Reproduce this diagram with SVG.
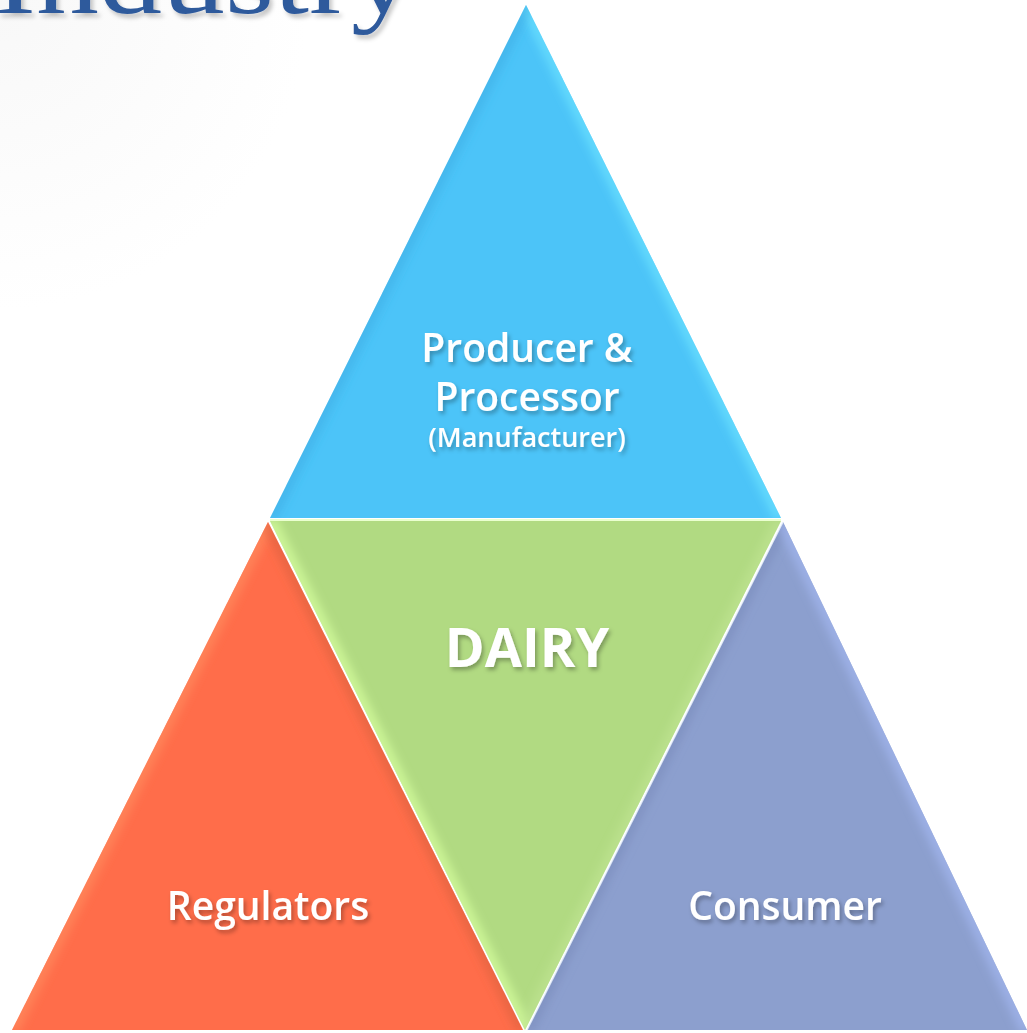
<svg xmlns="http://www.w3.org/2000/svg" width="1027" height="1033" viewBox="0 0 1027 1033">
<defs>
<style>
.lbl{font-family:"Open Sans",Lato,"Liberation Sans",sans-serif;font-weight:600;fill:#ffffff;text-anchor:middle;filter:url(#ts)}
.edge{fill:none;stroke-width:14;filter:url(#bl)}
</style>
<filter id="ts" x="-10%" y="-30%" width="130%" height="170%">
<feDropShadow dx="2" dy="3" stdDeviation="2" flood-color="#000" flood-opacity="0.3"/>
</filter>
<filter id="bl"><feGaussianBlur stdDeviation="4"/></filter>
<filter id="tts" x="-5%" y="-50%" width="110%" height="200%">
<feDropShadow dx="3" dy="4" stdDeviation="2" flood-color="#000" flood-opacity="0.22"/>
</filter>
<radialGradient id="bg" cx="0" cy="0" r="1">
<stop offset="0" stop-color="#f8f8f8"/>
<stop offset="0.3" stop-color="#ffffff"/>
</radialGradient>
<clipPath id="cTop"><polygon points="526,5 270,518 781,518"/></clipPath>
<clipPath id="cMid"><polygon points="270,521 781,521 525,1030"/></clipPath>
<clipPath id="cLeft"><polygon points="268,522 12,1030 523,1030"/></clipPath>
<clipPath id="cRight"><polygon points="783,522 527,1030 1027,1030"/></clipPath>
</defs>
<rect width="1027" height="1033" fill="url(#bg)"/>
<text x="-6" y="13" font-family="'Liberation Serif',serif" font-size="104" fill="#2f5a9c" textLength="420" lengthAdjust="spacingAndGlyphs" filter="url(#tts)">Industry</text>

<g id="producer">
<polygon points="526,5 270,518 781,518" fill="#4cc4f8"/>
<g clip-path="url(#cTop)">
<polyline class="edge" points="270,518 781,518" stroke="#3f93c4" stroke-opacity="0.75"/>
<polyline class="edge" points="526,5 781,518" stroke="#6fe6ff" stroke-opacity="0.6"/>
<polyline class="edge" points="526,5 270,518" stroke="#3aa6dc" stroke-opacity="0.4"/>
</g>
<text class="lbl" x="527" y="362" font-size="39">Producer &amp;</text>
<text class="lbl" x="527" y="411" font-size="39">Processor</text>
<text class="lbl" x="527" y="447" font-size="27">(Manufacturer)</text>
</g>

<g id="dairy">
<polygon points="270,521 781,521 525,1030" fill="#b1da82"/>
<g clip-path="url(#cMid)">
<polyline class="edge" points="270,521 781,521" stroke="#8fae6a" stroke-opacity="0.8"/>
<polyline class="edge" points="270,521 525,1030" stroke="#d6ff9e" stroke-opacity="0.7"/>
<polyline class="edge" points="781,521 525,1030" stroke="#c4e896" stroke-opacity="0.5"/>
</g>
<line x1="270" y1="520" x2="781" y2="520" stroke="#eaffd0" stroke-width="2"/>
<text class="lbl" x="527" y="667" font-size="54" style="font-weight:bold">DAIRY</text>
</g>

<g id="regulators">
<polygon points="268,522 12,1030 523,1030" fill="#ff6d4a"/>
<g clip-path="url(#cLeft)">
<polyline class="edge" points="268,522 12,1030" stroke="#ff9060" stroke-opacity="0.6"/>
<polyline class="edge" points="268,522 523,1030" stroke="#d8603e" stroke-opacity="0.5"/>
<polyline class="edge" points="12,1030 523,1030" stroke="#c85a3e" stroke-opacity="0.6"/>
</g>
<text class="lbl" x="268" y="920" font-size="39">Regulators</text>
</g>

<g id="consumer">
<polygon points="783,522 527,1030 1027,1030" fill="#8c9fce"/>
<g clip-path="url(#cRight)">
<polyline class="edge" points="783,522 527,1030" stroke="#7a8cbc" stroke-opacity="0.6"/>
<polyline class="edge" points="783,522 1027,1030" stroke="#a3b6f0" stroke-opacity="0.7"/>
<polyline class="edge" points="527,1030 1027,1030" stroke="#7b8dba" stroke-opacity="0.6"/>
</g>
<line x1="783" y1="522" x2="527" y2="1030" stroke="#f0f8ff" stroke-width="1.5" stroke-opacity="0.8"/>
<text class="lbl" x="785" y="920" font-size="39">Consumer</text>
</g>
<g id="connectors"/>
</svg>
